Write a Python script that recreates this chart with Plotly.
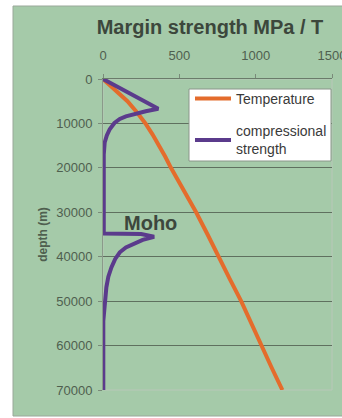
import plotly.graph_objects as go

# ---- data ----
temp_depth = [0, 2500, 5000, 7500, 10000, 12500, 15000, 17500, 20000, 25000, 30000,
              35000, 40000, 45000, 50000, 55000, 60000, 65000, 70000]
temp_value = [0, 85, 160, 222, 278, 325, 368, 408, 445, 530, 610,
              685, 755, 830, 905, 970, 1035, 1105, 1175]

strength_depth = [0, 3000, 6700, 7250, 7900, 8400, 9000, 9900, 11300, 12700, 14300, 17000,
                  25000, 34800, 34900, 35500, 36200, 37100, 37900, 39000, 40500, 42400,
                  44500, 46900, 49500, 52000, 53500, 54500, 70000]
strength_value = [0, 168, 362, 280, 197, 150, 110, 75, 44, 25, 11, 5,
                  5, 5, 250, 335, 260, 200, 150, 110, 80, 55,
                  35, 22, 15, 11, 8, 2, 2]

x_ticks = [0, 500, 1000, 1500]
y_ticks = [0, 10000, 20000, 30000, 40000, 50000, 60000, 70000]

title_text = "Margin strength MPa / T"
ytitle_text = "depth (m)"
names = ["Temperature", "compressional<br>strength"]
moho_label = "Moho"

W, H = 342, 418
L, R, T, B = 103, 10, 79, 28

FONT = "Arial, Liberation Sans, sans-serif"
GREEN = "#a5caa9"
TXT = "#4f5f4f"

fig = go.Figure()
fig.add_trace(go.Scatter(x=temp_value, y=temp_depth, mode="lines", name=names[0],
                         legendgroup="a",
                         line=dict(color="#e46c2c", width=4)))
fig.add_trace(go.Scatter(x=strength_value, y=strength_depth, mode="lines", name=names[1],
                         legendgroup="b",
                         line=dict(color="#5b3b8c", width=4)))

pw = W - L - R
ph = H - T - B


def px_x(p):
    return (p - L) / pw


def px_y(p):
    return (H - B - p) / ph


# green panel with light border
fig.add_shape(type="rect", xref="paper", yref="paper", layer="below",
              x0=px_x(13), x1=px_x(W + 5), y0=px_y(416), y1=px_y(6),
              fillcolor=GREEN, line=dict(color="#9aa89a", width=1))
# plot-area border (light)
fig.add_shape(type="rect", xref="paper", yref="paper", layer="below",
              x0=0, x1=1, y0=0, y1=1,
              line=dict(color="#b9c7b9", width=1))
# legend box
fig.add_shape(type="rect", xref="paper", yref="paper", layer="above",
              x0=px_x(189), x1=px_x(331), y0=px_y(161), y1=px_y(89),
              fillcolor="white", line=dict(color="#8a968a", width=1))

fig.add_annotation(x=310, y=32400, xref="x", yref="y", text="<b>" + moho_label + "</b>",
                   showarrow=False, font=dict(family=FONT, size=20, color="#3d473d"))

fig.update_layout(
    width=W, height=H,
    margin=dict(l=L, r=R, t=T, b=B, autoexpand=False),
    paper_bgcolor="white",
    plot_bgcolor="rgba(0,0,0,0)",
    title=dict(text="<b>" + title_text + "</b>", xref="container", yref="container",
               x=210 / W, y=1 - 27 / H, xanchor="center", yanchor="middle",
               automargin=False,
               font=dict(family=FONT, size=20, color="#3c473c")),
    showlegend=True,
    legend=dict(x=px_x(190), y=px_y(83), xanchor="left", yanchor="top",
                bgcolor="rgba(0,0,0,0)", borderwidth=0,
                font=dict(family=FONT, size=14, color="#3a3a3a"),
                itemwidth=36,
                traceorder="grouped", tracegroupgap=11),
    xaxis=dict(side="top", range=[0, 1500], tickvals=x_ticks, automargin=False,
               ticks="outside", ticklen=4, tickcolor="#7a8a7a",
               showline=True, linecolor="#6b7b6b", linewidth=1,
               showgrid=False, zeroline=False, ticklabelstandoff=9,
               ticklabeloverflow="allow",
               tickfont=dict(family=FONT, size=13, color=TXT)),
    yaxis=dict(range=[70000, 0], tickvals=y_ticks, tickformat="d", automargin=False,
               ticks="outside", ticklen=4, tickcolor="#7a8a7a",
               showline=True, linecolor="#8a9a8a", linewidth=1,
               showgrid=True, gridcolor="#5f705f", gridwidth=1, zeroline=False,
               ticklabelstandoff=3, ticklabeloverflow="allow",
               tickfont=dict(family=FONT, size=13, color=TXT),
               title=dict(text="<b>" + ytitle_text + "</b>", standoff=6,
                          font=dict(family=FONT, size=12, color=TXT))),
)

fig.write_html("out.html", config={"displayModeBar": False},
               post_script="document.body.style.margin='0';")
